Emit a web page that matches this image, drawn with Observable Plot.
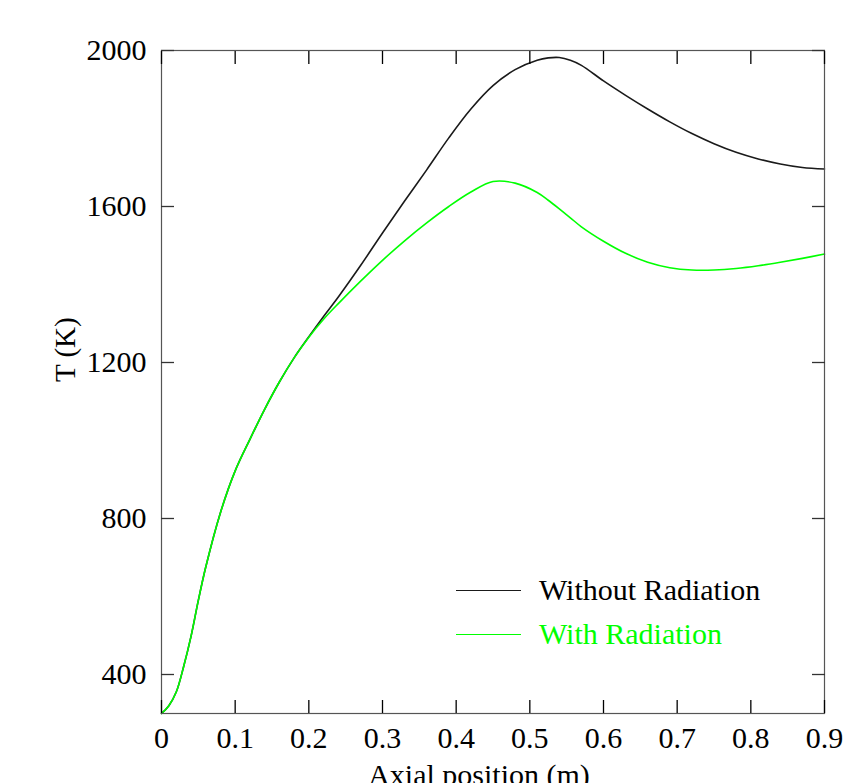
<!DOCTYPE html>
<html>
<head>
<meta charset="utf-8">
<script src="https://cdn.jsdelivr.net/npm/d3@7"></script>
<script src="https://cdn.jsdelivr.net/npm/@observablehq/plot@0.6"></script>
<style>
  html, body { margin: 0; padding: 0; background: #fff; }
  #wrap { position: relative; width: 853px; height: 783px; overflow: hidden; }
  #legend { position: absolute; left: 456px; top: 568px; font-family: "Liberation Serif", serif; font-size: 30px; }
  .row { display: flex; align-items: center; height: 44px; }
  .sw { width: 65px; height: 0; border-top: 1.5px solid; margin-right: 18px; }
</style>
</head>
<body>
<div id="wrap"></div>
<script>
// Axial position (m)
const xs = [0, 0.01, 0.02, 0.03, 0.04, 0.05, 0.06, 0.08, 0.10, 0.12, 0.14, 0.16, 0.18, 0.20, 0.22, 0.24,
  0.27, 0.30, 0.33, 0.36, 0.39, 0.42, 0.45, 0.48, 0.51, 0.525, 0.54, 0.555, 0.57, 0.60, 0.63, 0.66, 0.69, 0.72, 0.75,
  0.78, 0.81, 0.84, 0.87, 0.90];
// Temperature (K) without radiation
const withoutRadiation = [300, 320, 355, 420, 497, 590, 675, 815, 922, 1003, 1080, 1150, 1212, 1266, 1318, 1368,
  1448, 1532, 1614, 1694, 1776, 1850, 1910, 1951, 1975, 1981, 1982, 1975, 1962, 1922, 1885, 1850, 1817, 1787, 1761,
  1739, 1722, 1709, 1700, 1696];
// Temperature (K) with radiation
const withRadiation = [300, 320, 355, 420, 497, 590, 675, 815, 922, 1003, 1080, 1150, 1212, 1265, 1311, 1351,
  1408, 1462, 1512, 1558, 1600, 1637, 1664, 1660, 1636, 1616, 1594, 1571, 1548, 1511, 1480, 1457, 1443, 1437, 1437,
  1441, 1448, 1457, 1467, 1478];

const seriesNames = ["Without Radiation", "With Radiation"];
const seriesColors = ["#1a1a1a", "#00ff00"];
const xTicks = [0, 0.1, 0.2, 0.3, 0.4, 0.5, 0.6, 0.7, 0.8, 0.9];
const yTicks = [400, 800, 1200, 1600, 2000];

const data = [
  ...xs.map((x, i) => ({x, T: withoutRadiation[i], series: seriesNames[0]})),
  ...xs.map((x, i) => ({x, T: withRadiation[i], series: seriesNames[1]}))
];

const chart = Plot.plot({
  width: 853,
  height: 783,
  marginLeft: 161,
  marginRight: 29,
  marginTop: 50,
  marginBottom: 70,
  style: {fontFamily: "Liberation Serif, serif", fontSize: "30px", background: "#fff", color: "#000"},
  x: {domain: [0, 0.9], label: null},
  y: {domain: [300, 2000], label: null},
  color: {domain: seriesNames, range: seriesColors},
  marks: [
    Plot.line(data, {x: "x", y: "T", z: "series", stroke: "series", strokeWidth: 1.6, curve: "catmull-rom"}),
    Plot.frame({stroke: "#555", strokeWidth: 1.2}),
    Plot.axisX(xTicks, {anchor: "bottom", tickSize: -13, text: null, label: null, stroke: "#000", strokeWidth: 1.3}),
    Plot.axisX(xTicks, {anchor: "top", tickSize: -13, text: null, label: null, stroke: "#000", strokeWidth: 1.3}),
    Plot.axisY(yTicks, {anchor: "left", tickSize: -13, text: null, label: null, stroke: "#333", strokeWidth: 1.3}),
    Plot.axisY(yTicks, {anchor: "right", tickSize: -13, text: null, label: null, stroke: "#333", strokeWidth: 1.3}),
    Plot.axisX(xTicks, {anchor: "bottom", tickSize: 0, tickPadding: 13, label: null, fontSize: 30, fill: "#000", tickFormat: d => String(d)}),
    Plot.axisY(yTicks, {anchor: "left", tickSize: 0, tickPadding: 15, label: null, fontSize: 30, fill: "#000", tickFormat: d => String(d)}),
    Plot.text(["T (K)"], {frameAnchor: "left", dx: -96, rotate: -90, fontSize: 29, fill: "#000"}),
    Plot.text(["Axial position (m)"], {frameAnchor: "bottom", dx: -14, dy: 50, lineAnchor: "top", fontSize: 30, fill: "#000"})
  ]
});

const wrap = document.getElementById("wrap");
wrap.appendChild(chart);

const legend = document.createElement("div");
legend.id = "legend";
seriesNames.forEach((name, i) => {
  const row = document.createElement("div");
  row.className = "row";
  const sw = document.createElement("div");
  sw.className = "sw";
  sw.style.borderTopColor = seriesColors[i];
  const label = document.createElement("span");
  label.textContent = name;
  label.style.color = i === 0 ? "#000" : seriesColors[i];
  row.appendChild(sw);
  row.appendChild(label);
  legend.appendChild(row);
});
wrap.appendChild(legend);
</script>
</body>
</html>
